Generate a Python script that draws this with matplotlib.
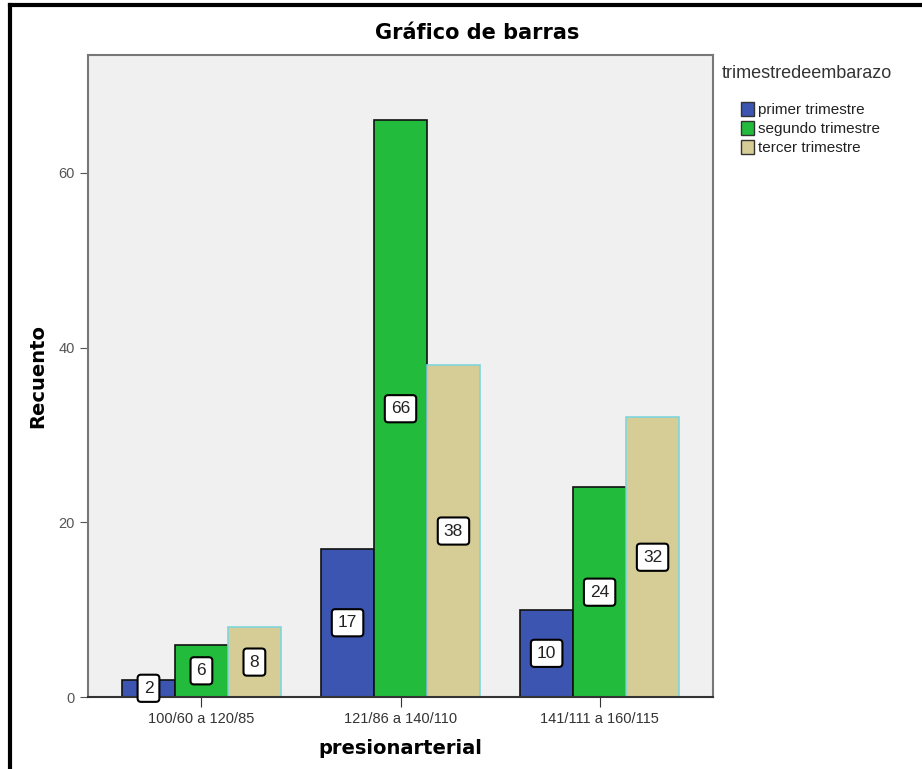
import numpy as np
import matplotlib.pyplot as plt
from matplotlib.lines import Line2D
from matplotlib.patches import Patch

plt.rcParams['font.family'] = ['Liberation Sans Narrow', 'Liberation Sans', 'DejaVu Sans']

grupos = ['100/60 a 120/85', '121/86 a 140/110', '141/111 a 160/115']
trimestres = ['primer trimestre', 'segundo trimestre', 'tercer trimestre']
primer = [2, 17, 10]
segundo = [6, 66, 24]
tercer = [8, 38, 32]

colores = ['#3b55b0', '#22bb3c', '#d6cd96']
bordes = ['#111111', '#111111', '#7fd6dc']

fig = plt.figure(figsize=(9.22, 7.69), dpi=100)
ax = fig.add_axes([0.0954, 0.0936, 0.678, 0.835])
ax.set_facecolor('#f0f0f0')

x = np.arange(len(grupos))
ancho = 0.266
for i, (serie, nombre) in enumerate(zip([primer, segundo, tercer], trimestres)):
    pos = x + (i - 1) * ancho
    ax.bar(pos, serie, width=ancho, color=colores[i], edgecolor=bordes[i],
           linewidth=1.2, label=nombre, zorder=2)
    for px, v in zip(pos, serie):
        ax.text(px, v / 2, str(v), ha='center', va='center', fontsize=12.5,
                color='#222222', zorder=3,
                bbox=dict(boxstyle='round,pad=0.35,rounding_size=0.2', fc='white', ec='black', lw=1.5))

ax.set_xlim(-0.57, 2.57)
ax.set_ylim(0, 73.5)
ax.set_xticks(x)
ax.set_xticklabels(grupos, fontsize=10.5, color='#333333')
ax.set_yticks([0, 20, 40, 60])
ax.tick_params(axis='y', labelsize=10.5, labelcolor='#555555', length=6, color='#555555')
ax.tick_params(axis='x', length=7, color='#333333')
for s in ax.spines.values():
    s.set_color('#777777')
    s.set_linewidth(1.5)
ax.spines['bottom'].set_color('#333333')

ax.set_ylabel('Recuento', fontsize=14, fontweight='bold', family='DejaVu Sans', labelpad=8)
ax.set_xlabel('presionarterial', fontsize=14, fontweight='bold', family='DejaVu Sans', labelpad=10)
fig.text(0.518, 0.957, 'Gráfico de barras', ha='center', va='center',
         fontsize=15, fontweight='bold', family='DejaVu Sans')

# leyenda: titulo aparte y entradas con sangria
fig.text(0.783, 0.905, 'trimestredeembarazo', ha='left', va='center',
         fontsize=13, color='#333333')
handles = [Patch(facecolor=c, edgecolor='#333333') for c in colores]
leg = fig.legend(handles, trimestres, loc='upper left', bbox_to_anchor=(0.795, 0.877),
                 frameon=False, fontsize=11, handlelength=0.9, handleheight=1.0,
                 handletextpad=0.25, labelspacing=0.25, borderpad=0.0)
for t in leg.get_texts():
    t.set_color('#222222')

# marco negro superior e izquierdo
fig.add_artist(Line2D([0.011, 0.011], [0, 0.993], color='black', lw=3, transform=fig.transFigure))
fig.add_artist(Line2D([0.011, 1.0], [0.993, 0.993], color='black', lw=3, transform=fig.transFigure))

fig.savefig('out.png', dpi=100)
